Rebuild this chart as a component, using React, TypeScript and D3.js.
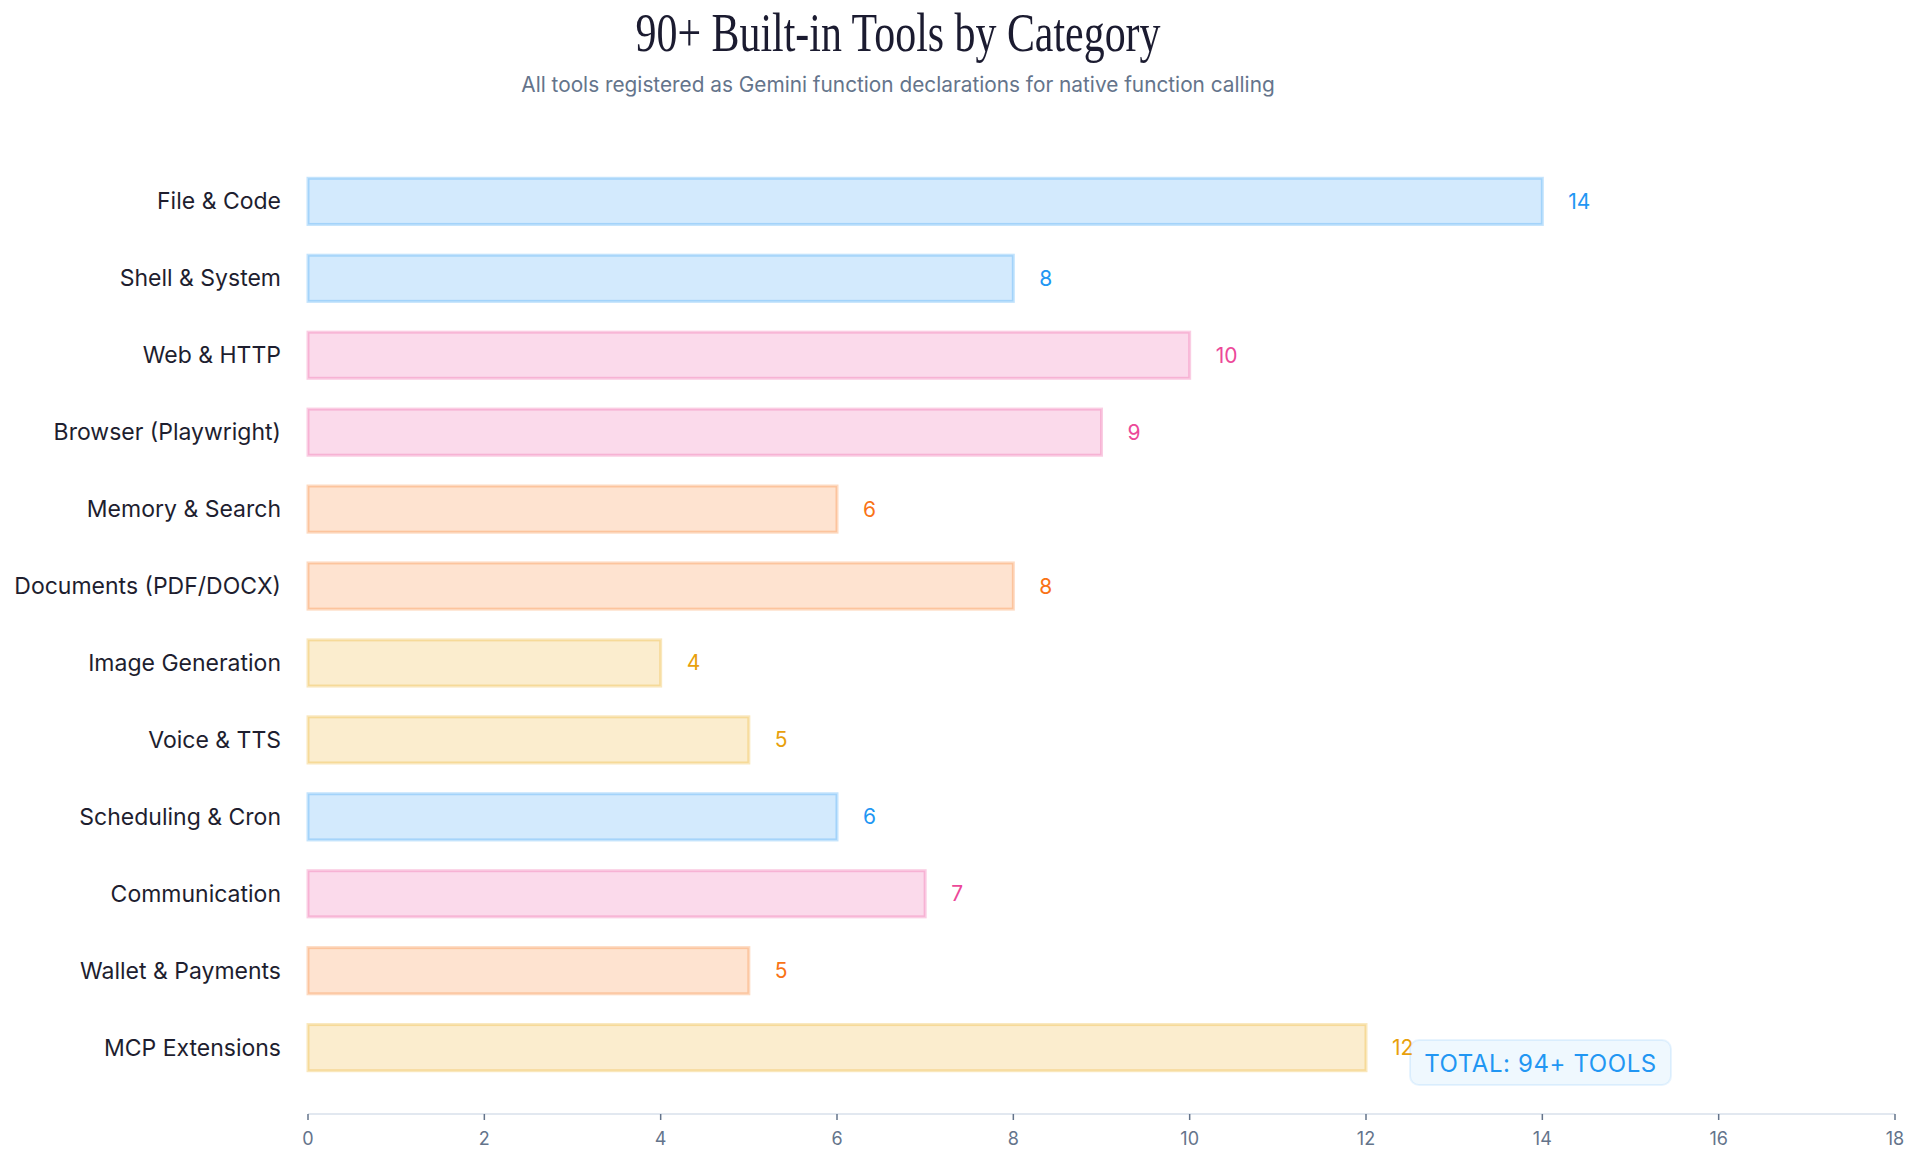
import React from "react";
import * as d3 from "d3";

const categories = [
  "File & Code",
  "Shell & System",
  "Web & HTTP",
  "Browser (Playwright)",
  "Memory & Search",
  "Documents (PDF/DOCX)",
  "Image Generation",
  "Voice & TTS",
  "Scheduling & Cron",
  "Communication",
  "Wallet & Payments",
  "MCP Extensions",
];
const toolCounts = [14, 8, 10, 9, 6, 8, 4, 5, 6, 7, 5, 12];
const colorGroups = [
  "blue", "blue", "pink", "pink", "orange", "orange",
  "amber", "amber", "blue", "pink", "orange", "amber",
];
const xTicks = [0, 2, 4, 6, 8, 10, 12, 14, 16, 18];
const titleText = "90+ Built-in Tools by Category";
const subtitleText = "All tools registered as Gemini function declarations for native function calling";
const totalText = "TOTAL: 94+ TOOLS";

const palette: Record<string, { base: string; label: string }> = {
  blue: { base: "#2196f3", label: "#2196f3" },
  pink: { base: "#ec4899", label: "#ec4899" },
  orange: { base: "#f97316", label: "#f97316" },
  amber: { base: "#eaa608", label: "#e8a00c" },
};

export default function App() {
  const W = 1918;
  const H = 1164;
  const x = d3.scaleLinear().domain([0, 18]).range([308, 1895]);
  const y = d3
    .scaleBand<string>()
    .domain(categories)
    .range([147.5, 1101.5])
    .paddingInner(0.4)
    .paddingOuter(0.4);
  const axisY = 1114;
  const font = "Inter, 'Noto Sans', sans-serif";

  return (
    <svg
      width={W}
      height={H}
      style={{ position: "absolute", left: 0, top: 0, background: "#fff" }}
    >
      <text
        x={898}
        y={51}
        textAnchor="middle"
        fontFamily="'Liberation Serif', 'DejaVu Serif', serif"
        fontSize={55}
        fill="#1b1b30"
        textLength={525}
        lengthAdjust="spacingAndGlyphs"
      >
        {titleText}
      </text>
      <text
        x={898}
        y={92}
        textAnchor="middle"
        fontFamily={font}
        fontSize={20.8}
        fill="#64748b"
      >
        {subtitleText}
      </text>

      {categories.map((c, i) => {
        const p = palette[colorGroups[i]];
        const y0 = y(c)!;
        const bw = y.bandwidth();
        return (
          <g key={c}>
            <rect
              x={x(0)}
              y={y0}
              width={x(toolCounts[i]) - x(0)}
              height={bw}
              fill={p.base}
              fillOpacity={0.2}
              stroke={p.base}
              strokeOpacity={0.27}
              strokeWidth={3}
            />
            <text
              x={x(0) - 27}
              y={y0 + bw / 2}
              textAnchor="end"
              dominantBaseline="central"
              fontFamily={font}
              fontSize={23}
              fill="#1e1e2f"
            >
              {c}
            </text>
          </g>
        );
      })}

      <line x1={x(0)} x2={x(18)} y1={axisY} y2={axisY} stroke="#e2e8f0" strokeWidth={2} />
      {xTicks.map((t) => (
        <g key={t}>
          <line x1={x(t)} x2={x(t)} y1={axisY} y2={axisY + 6} stroke="#64748b" strokeWidth={1.5} />
          <text
            x={x(t)}
            y={axisY + 24}
            textAnchor="middle"
            dominantBaseline="central"
            fontFamily={font}
            fontSize={18}
            fill="#64748b"
          >
            {t}
          </text>
        </g>
      ))}

      <rect
        x={1410}
        y={1040}
        width={261}
        height={45}
        rx={9}
        fill="#2196f3"
        fillOpacity={0.07}
        stroke="#2196f3"
        strokeOpacity={0.1}
        strokeWidth={2}
      />
      {categories.map((c, i) => {
        const p = palette[colorGroups[i]];
        const y0 = y(c)!;
        const bw = y.bandwidth();
        return (
          <text
            key={c + "-v"}
            x={x(toolCounts[i]) + 26}
            y={y0 + bw / 2}
            dominantBaseline="central"
            fontFamily={font}
            fontSize={21}
            fill={p.label}
          >
            {toolCounts[i]}
          </text>
        );
      })}
      <text
        x={1540.5}
        y={1063}
        textAnchor="middle"
        dominantBaseline="central"
        fontFamily={font}
        fontSize={24}
        letterSpacing={0.6}
        fill="#2196f3"
      >
        {totalText}
      </text>
    </svg>
  );
}
